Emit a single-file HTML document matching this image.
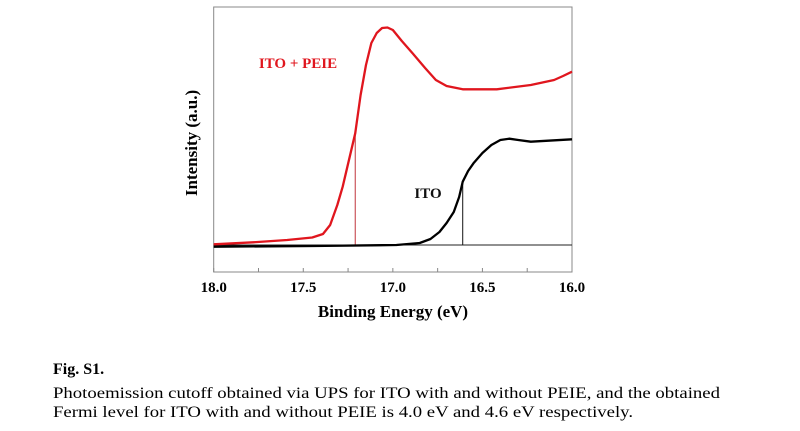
<!DOCTYPE html>
<html><head><meta charset="utf-8"><style>
html,body{margin:0;padding:0;background:#fff;}
svg{display:block;font-family:"Liberation Serif",serif;}
</style></head><body>
<svg id="chart" width="800" height="431" viewBox="0 0 800 431">
<rect x="213.7" y="7" width="358.3" height="265" fill="none" stroke="#888" stroke-width="1"/>
<g id="ticks"></g>
<g id="marks"></g>
<text x="298" y="68" fill="#e0161e" font-weight="bold" font-size="15" text-anchor="middle">ITO + PEIE</text>
<text x="428" y="198" fill="#111" font-weight="bold" font-size="15" text-anchor="middle">ITO</text>
<text transform="translate(197,143) rotate(-90)" font-weight="bold" font-size="17" text-anchor="middle">Intensity (a.u.)</text>
<text x="393" y="317" font-weight="bold" font-size="17" text-anchor="middle">Binding Energy (eV)</text>
<text x="53" y="374" font-weight="bold" font-size="16">Fig. S1.</text>
<text x="53" y="398" font-size="16" textLength="667" lengthAdjust="spacingAndGlyphs">Photoemission cutoff obtained via UPS for ITO with and without PEIE, and the obtained</text>
<text x="53" y="417" font-size="16" textLength="580" lengthAdjust="spacingAndGlyphs">Fermi level for ITO with and without PEIE is 4.0 eV and 4.6 eV respectively.</text>
</svg>
<script>
const tickValues=[18.0,17.5,17.0,16.5,16.0];
const tickLabels=["18.0","17.5","17.0","16.5","16.0"];
const peieE=[18.0,17.78,17.59,17.45,17.39,17.35,17.31,17.28,17.21,17.18,17.15,17.12,17.09,17.06,17.03,17.0,16.95,16.89,16.82,16.76,16.70,16.61,16.42,16.23,16.10,16.05,16.0];
const peieI=[0.7,2.7,5,7.5,11,20,40,58.3,111.7,150,180,202,212,217,217.5,215,204,191.7,177,165,159,155.7,155.7,160,165,169,173.3];
const itoE=[18.0,17.44,16.98,16.85,16.79,16.74,16.70,16.66,16.63,16.61,16.58,16.55,16.50,16.45,16.40,16.35,16.30,16.23,16.0];
const itoI=[-1.7,-1,0,2,6,13,22,33,48,63.3,74,81.7,92,100,105,106.3,105,103.3,105.7];
const cutoffE=[17.21,16.61];
const cutoffI=[111.7,63.3];
const NS="http://www.w3.org/2000/svg";
const X0=213.7,X1=572,Y0=245;
function xs(e){return X0+(18-e)/2*(X1-X0);}
function ys(v){return Y0-v;}
const ticks=document.getElementById('ticks'),marks=document.getElementById('marks');
for(let e=18;e>=15.999;e-=0.25){
 const t=document.createElementNS(NS,'line');
 t.setAttribute('x1',xs(e));t.setAttribute('x2',xs(e));t.setAttribute('y1',272);t.setAttribute('y2',268);
 t.setAttribute('stroke','#888');
 
 
 ticks.appendChild(t);
}
tickValues.forEach((v,i)=>{
 const tx=document.createElementNS(NS,'text');
 tx.setAttribute('x',xs(v));tx.setAttribute('y',292);tx.setAttribute('text-anchor','middle');
 tx.setAttribute('font-weight','bold');tx.setAttribute('font-size','15');
 tx.textContent=tickLabels[i];
 
 
 ticks.appendChild(tx);
});
const base=document.createElementNS(NS,'line');
base.setAttribute('x1',X0);base.setAttribute('x2',X1);base.setAttribute('y1',ys(0));base.setAttribute('y2',ys(0));
base.setAttribute('stroke','#222');base.setAttribute('stroke-width','1');


marks.appendChild(base);
const colors=['#c0343a','#111'];
cutoffE.forEach((e,i)=>{
 const l=document.createElementNS(NS,'line');
 l.setAttribute('x1',xs(e));l.setAttribute('x2',xs(e));l.setAttribute('y1',ys(cutoffI[i]));l.setAttribute('y2',ys(0));
 l.setAttribute('stroke',colors[i]);l.setAttribute('stroke-width','1');
 
 
 marks.appendChild(l);
});
function path(E,I,c,name){
 const p=document.createElementNS(NS,'polyline');
 p.setAttribute('points',E.map((e,i)=>xs(e)+','+ys(I[i])).join(' '));
 p.setAttribute('fill','none');p.setAttribute('stroke',c);p.setAttribute('stroke-width','2.3');p.setAttribute('stroke-linejoin','round');
 
 
 marks.appendChild(p);
}
path(itoE,itoI,'#000','ito-curve');
path(peieE,peieI,'#e0161e','ito-peie-curve');
</script>
</body></html>
